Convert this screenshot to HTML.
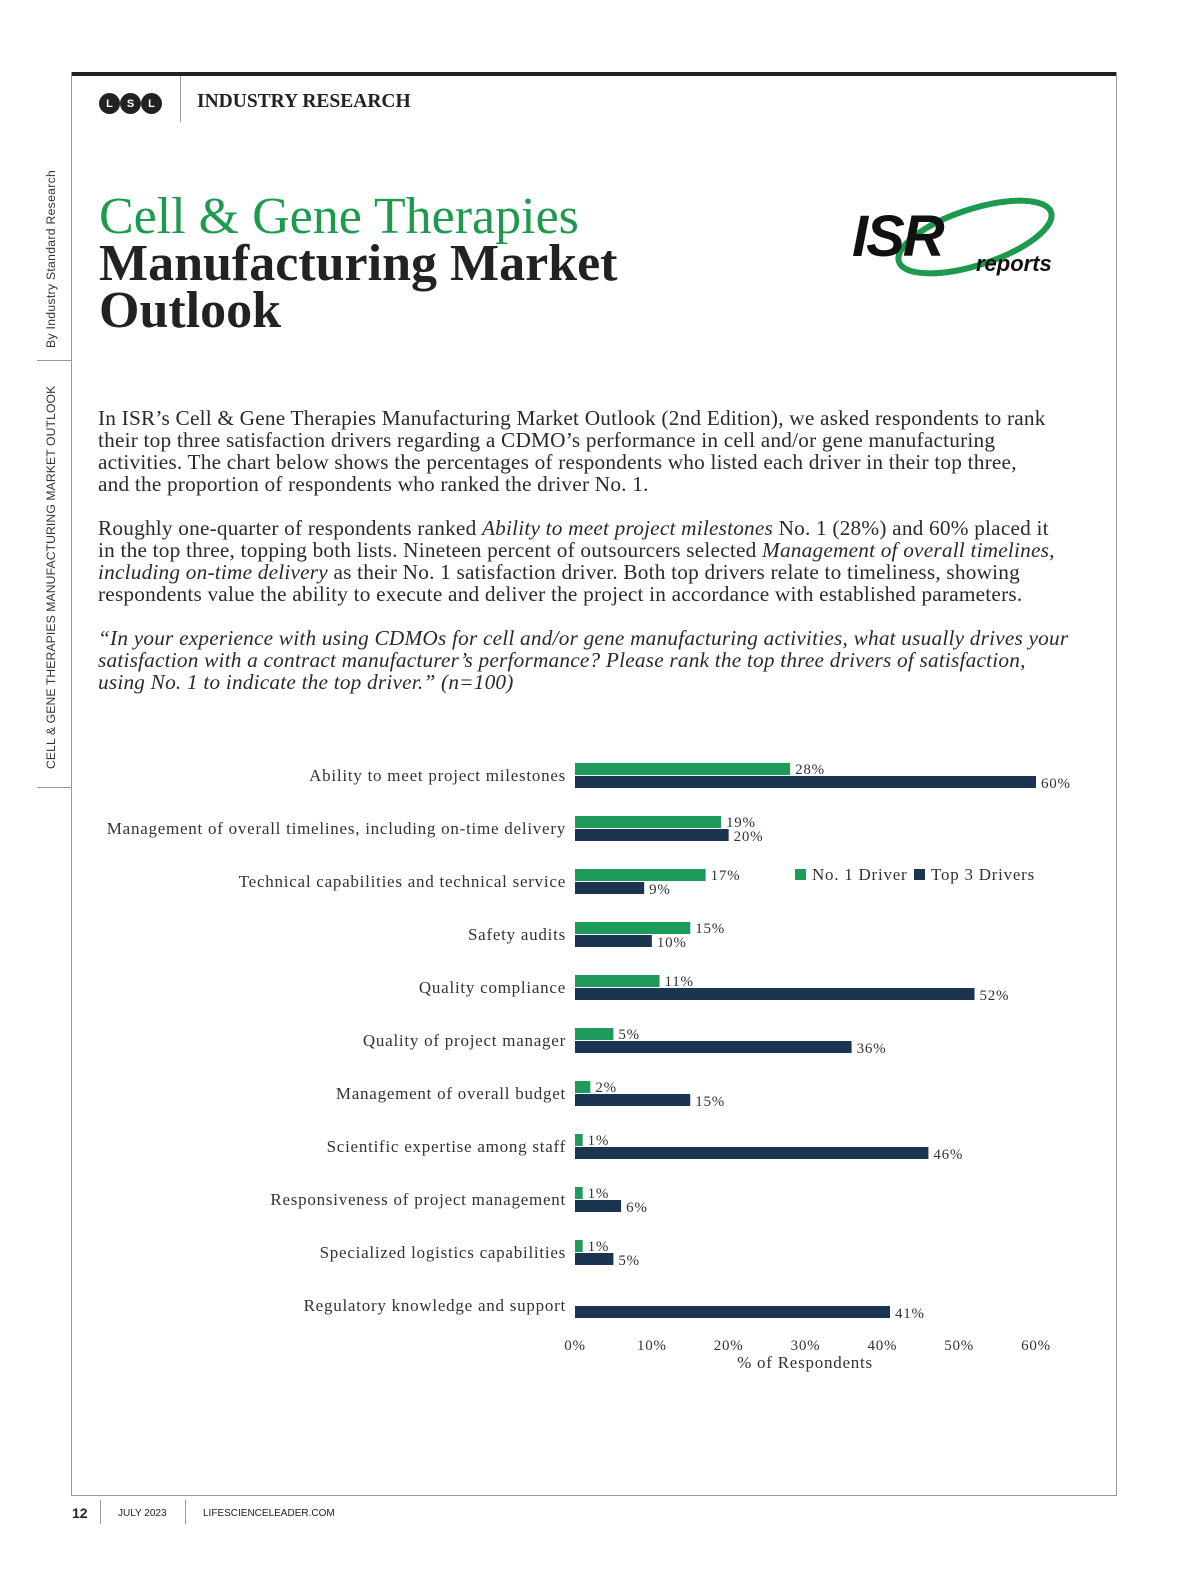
<!DOCTYPE html>
<html><head><meta charset="utf-8"><style>
body{margin:0;width:1200px;height:1582px;background:#fff;position:relative;font-family:"Liberation Serif",serif;color:#222;overflow:hidden}
.abs{position:absolute}
p{margin:0}
.para{position:absolute;left:98px;width:1010px;font-size:21.3px;line-height:22px;color:#2a2a2a;white-space:nowrap;letter-spacing:0.2px}
.side{position:absolute;font-family:"Liberation Sans",sans-serif;font-size:12.2px;letter-spacing:0.3px;transform:rotate(-90deg);transform-origin:left top;white-space:nowrap;color:#333}
</style></head><body>
<div class="abs" style="left:72px;top:72px;width:1045px;height:4px;background:#222"></div>
<div class="abs" style="left:71px;top:72px;width:1px;height:1424px;background:#999"></div>
<div class="abs" style="left:1116px;top:72px;width:1px;height:1424px;background:#999"></div>
<div class="abs" style="left:71px;top:1495px;width:1046px;height:1px;background:#999"></div>

<div class="abs" style="left:99px;top:93px;display:flex;gap:0px">
<span style="width:21px;height:21px;border-radius:50%;background:#222;color:#fff;font:bold 11px 'Liberation Sans',sans-serif;display:flex;align-items:center;justify-content:center">L</span>
<span style="width:21px;height:21px;border-radius:50%;background:#222;color:#fff;font:bold 11px 'Liberation Sans',sans-serif;display:flex;align-items:center;justify-content:center">S</span>
<span style="width:21px;height:21px;border-radius:50%;background:#222;color:#fff;font:bold 11px 'Liberation Sans',sans-serif;display:flex;align-items:center;justify-content:center">L</span>
</div>
<div class="abs" style="left:180px;top:76px;width:1px;height:46px;background:#999"></div>
<div class="abs" style="left:197px;top:91px;font-size:19.5px;font-weight:bold;color:#222">INDUSTRY RESEARCH</div>

<div class="side" style="left:44px;top:348px">By Industry Standard Research</div>
<div class="abs" style="left:37px;top:360px;width:35px;height:1px;background:#999"></div>
<div class="side" style="left:44px;top:769px;letter-spacing:0.1px">CELL &amp; GENE THERAPIES MANUFACTURING MARKET OUTLOOK</div>
<div class="abs" style="left:37px;top:787px;width:35px;height:1px;background:#999"></div>

<div class="abs" style="left:99px;top:193px;font-size:52px;line-height:47px;font-weight:bold;white-space:nowrap">
<div style="color:#1e9a4e;font-weight:normal">Cell &amp; Gene Therapies</div>
<div style="color:#222">Manufacturing Market</div>
<div style="color:#222">Outlook</div></div>

<svg class="abs" style="left:850px;top:192px" width="240" height="95">
<ellipse cx="125" cy="45" rx="80" ry="28" transform="rotate(-18 125 45)" fill="none" stroke="#1e9a4e" stroke-width="6"/>
<text x="2" y="64" font-family="Liberation Sans" font-weight="bold" font-style="italic" font-size="58" fill="#111" letter-spacing="-2">ISR</text>
<text x="126" y="79" font-family="Liberation Sans" font-weight="bold" font-style="italic" font-size="22" fill="#111">reports</text>
</svg>

<p class="para" style="top:407px">In ISR’s Cell &amp; Gene Therapies Manufacturing Market Outlook (2nd Edition), we asked respondents to rank<br>their top three satisfaction drivers regarding a CDMO’s performance in cell and/or gene manufacturing<br>activities. The chart below shows the percentages of respondents who listed each driver in their top three,<br>and the proportion of respondents who ranked the driver No. 1.</p>
<p class="para" style="top:517px">Roughly one-quarter of respondents ranked <i>Ability to meet project milestones</i> No. 1 (28%) and 60% placed it<br>in the top three, topping both lists. Nineteen percent of outsourcers selected <i>Management of overall timelines,</i><br><i>including on-time delivery</i> as their No. 1 satisfaction driver. Both top drivers relate to timeliness, showing<br>respondents value the ability to execute and deliver the project in accordance with established parameters.</p>
<p class="para" style="top:627px;font-style:italic">“In your experience with using CDMOs for cell and/or gene manufacturing activities, what usually drives your<br>satisfaction with a contract manufacturer’s performance? Please rank the top three drivers of satisfaction,<br>using No. 1 to indicate the top driver.” (n=100)</p>

<svg class="abs" id="chart" style="left:0;top:740px" width="1200" height="650" font-family="Liberation Serif" font-size="17" letter-spacing="0.75"></svg>

<div class="abs" style="left:72px;top:1505px;font:bold 14px 'Liberation Sans',sans-serif">12</div>
<div class="abs" style="left:100px;top:1500px;width:1px;height:24px;background:#999"></div>
<div class="abs" style="left:118px;top:1508px;font:10px 'Liberation Sans',sans-serif">JULY 2023</div>
<div class="abs" style="left:185px;top:1500px;width:1px;height:24px;background:#999"></div>
<div class="abs" style="left:203px;top:1508px;font:10px 'Liberation Sans',sans-serif">LIFESCIENCELEADER.COM</div>

<script>
const categories=["Ability to meet project milestones","Management of overall timelines, including on-time delivery","Technical capabilities and technical service","Safety audits","Quality compliance","Quality of project manager","Management of overall budget","Scientific expertise among staff","Responsiveness of project management","Specialized logistics capabilities","Regulatory knowledge and support"];
const no1Values=[28,19,17,15,11,5,2,1,1,1,0];
const top3Values=[60,20,9,10,52,36,15,46,6,5,41];
const tickValues=[0,10,20,30,40,50,60];
const svg=document.getElementById('chart');
const NS='http://www.w3.org/2000/svg';
const x0=575,pxPer=(1036-575)/60,oy=-740;
const xs=v=>x0+v*pxPer;
const rowY=i=>763+53*i+oy;
function mk(t,a){const e=document.createElementNS(NS,t);for(const k in a)e.setAttribute(k,a[k]);svg.appendChild(e);return e;}
categories.forEach((c,i)=>{
 const y=rowY(i);
 const l=mk('text',{x:566,y:y+18,'text-anchor':'end',fill:'#333'});l.textContent=c;
 
 
 if(no1Values[i]>0){
  const g=mk('rect',{x:x0,y:y,width:xs(no1Values[i])-x0,height:12,fill:'#1e9a5a'});
  
  
  const gt=mk('text',{x:xs(no1Values[i])+5,y:y+11,fill:'#333',"font-size":15});gt.textContent=no1Values[i]+'%';
  
  
 }
 const b=mk('rect',{x:x0,y:y+13,width:xs(top3Values[i])-x0,height:12,fill:'#1b3550'});
 
 
 const bt=mk('text',{x:xs(top3Values[i])+5,y:y+25,fill:'#333',"font-size":15});bt.textContent=top3Values[i]+'%';
 
 
});
tickValues.forEach(v=>{
 const t=mk('text',{x:xs(v),y:1350+oy,'text-anchor':'middle',fill:'#333',"font-size":15});t.textContent=v+'%';
 
 
});
const xt=mk('text',{x:805,y:1368+oy,'text-anchor':'middle',fill:'#333'});xt.textContent='% of Respondents';


const lg1=mk('rect',{x:795,y:869+oy,width:11,height:11,fill:'#1e9a5a'});


const lt1=mk('text',{x:812,y:880+oy,fill:'#333'});lt1.textContent='No. 1 Driver';


const lg2=mk('rect',{x:914,y:869+oy,width:11,height:11,fill:'#1b3550'});


const lt2=mk('text',{x:931,y:880+oy,fill:'#333'});lt2.textContent='Top 3 Drivers';


</script>
</body></html>
